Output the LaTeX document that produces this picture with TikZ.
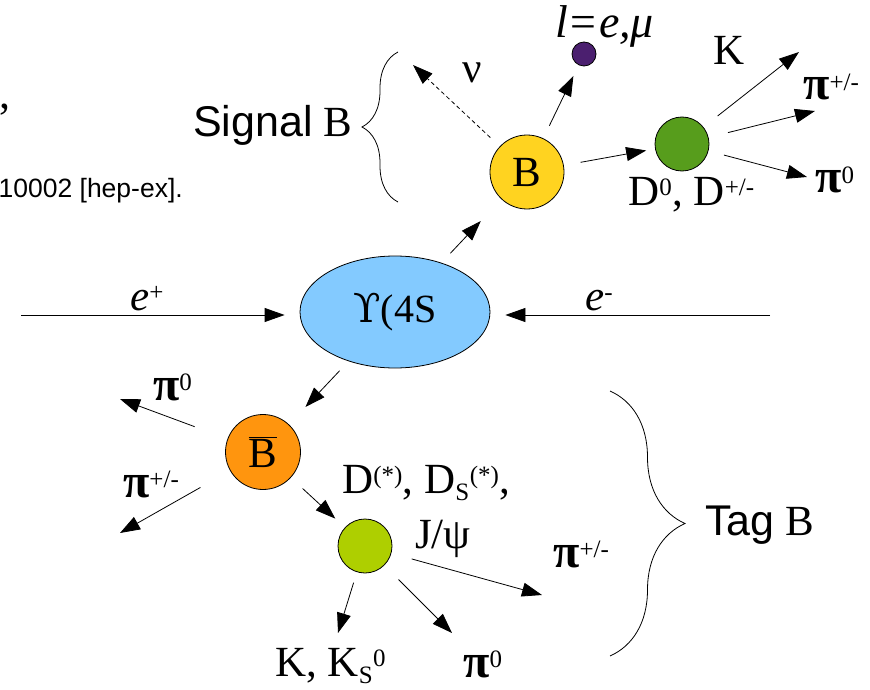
\documentclass[tikz,border=0pt]{standalone}
\usepackage{fontspec}
\setmainfont{Liberation Serif}
\newfontfamily\sansfam{Liberation Sans}
\newfontfamily\upsfam{DejaVu Serif}
\usetikzlibrary{arrows.meta,shapes.geometric,decorations.pathreplacing}
\definecolor{upscol}{HTML}{83CAFF}
\definecolor{bcol}{HTML}{FFD320}
\definecolor{lepcol}{HTML}{4B1F6F}
\definecolor{dcol}{HTML}{579D1C}
\definecolor{bbcol}{HTML}{FF950E}
\definecolor{dtcol}{HTML}{AECF00}
\newcommand\bigtxt{\fontsize{43}{47}\selectfont}
\newcommand\pib{{\fontsize{48}{52}\selectfont\textbf{π}}}
\newcommand\sups[1]{\textsuperscript{\fontsize{25}{27}\selectfont #1}}
\newcommand\subs[1]{\textsubscript{\fontsize{25}{27}\selectfont #1}}
\tikzset{
  ball/.style={circle,draw,line width=0.8pt,inner sep=0pt},
  arr/.style={-{Triangle[length=20pt,width=14pt]},line width=0.8pt},
  lbl/.style={font=\bigtxt,inner sep=0pt,anchor=base west},
  brc/.style={decorate,decoration={brace,amplitude=#1},line width=0.8pt}
}

\begin{document}
\begin{tikzpicture}[x=1pt,y=-1pt]
\useasboundingbox (0,0) rectangle (870,690);
\node[font=\fontsize{44}{48}\selectfont,inner sep=0pt,anchor=base west] (frag) at (-1,109) {,};
\node[font=\sansfam\fontsize{26.5}{30}\selectfont,inner sep=0pt,anchor=base east] (ref) at (183,197) {10002 [hep-ex].};
\node[ellipse,draw,line width=0.8pt,fill=upscol,minimum width=190pt,minimum height=112pt,inner sep=0pt,font=\fontsize{40}{44}\selectfont] (Y) at (395,312) {{\upsfam ϒ}(4S};
\node[ball,fill=bcol,minimum size=74pt,font=\bigtxt] (B) at (527,172) {B};
\node[ball,fill=lepcol,minimum size=24pt] (lep) at (584,54) {};
\node[ball,fill=dcol,minimum size=54pt] (D) at (682,144) {};
\node[ball,fill=bbcol,minimum size=75pt,font=\bigtxt] (Bb) at (263,452) {$\overline{\mbox{B}}$};
\node[ball,fill=dtcol,minimum size=54pt] (Dt) at (365,546) {};
\node[lbl,font=\fontsize{46}{50}\selectfont] (lepl) at (555,38) {\textit{l=e,μ}};
\node[lbl] (nul) at (462,83) {ν};
\node[lbl] (kl) at (713,65) {K};
\node[lbl] (pipl) at (803,100) {\pib\sups{+/-}};
\node[lbl] (pi0l) at (815,193) {\pib\sups{0}};
\node[lbl] (dl) at (628,205) {D\sups{0}, D\sups{+/-}};
\node[lbl] (sigl) at (193,137) {{\sansfam Signal} B};
\node[lbl] (tagl) at (705,535) {{\sansfam Tag} B};
\node[lbl] (epl) at (130,310) {\textit{e}\sups{+}};
\node[lbl] (eml) at (585,310) {\textit{e}\sups{-}};
\node[lbl] (bpi0l) at (153,400) {\pib\sups{0}};
\node[lbl] (bpipl) at (123,497) {\pib\sups{+/-}};
\node[lbl] (dsl) at (342,493) {D\sups{(*)}, D\subs{S}\sups{(*)},};
\node[lbl] (jpsil) at (415,548) {J/ψ};
\node[lbl] (tpipl) at (553,567) {\pib\sups{+/-}};
\node[lbl] (tpi0l) at (463,677) {\pib\sups{0}};
\node[lbl] (kksl) at (275,676) {K, K\subs{S}\sups{0}};
\coordinate (ein) at (21,315);
\coordinate (emin) at (770,315);
\coordinate (nuend) at (413,65);
\coordinate (kend) at (799,52);
\coordinate (pipend) at (815,111);
\coordinate (pi0end) at (807,177);
\coordinate (bpi0end) at (120,399);
\coordinate (bpipend) at (120,533);
\coordinate (tpipend) at (542,595);
\coordinate (tpi0end) at (452,633);
\coordinate (kksend) at (338,633);
\draw[arr,shorten >=15pt] (ein) -- (ein -| Y.west);
\draw[arr,shorten >=15pt] (emin) -- (emin -| Y.east);
\draw[arr,shorten <=13pt,shorten >=30pt] (Y) -- (B);
\draw[arr,shorten <=13pt,shorten >=24pt] (Y) -- (Bb);
\draw[arr,dash pattern=on 4pt off 3pt,shorten <=13pt] (B) -- (nuend);
\draw[arr,shorten <=14pt,shorten >=12pt] (B) -- (lep);
\draw[arr,shorten <=17pt,shorten >=9pt] (B) -- (D);
\draw[arr,shorten <=18pt] (D) -- (kend);
\draw[arr,shorten <=20pt] (D) -- (pipend);
\draw[arr,shorten <=16pt] (D) -- (pi0end);
\draw[arr,shorten <=35pt] (Bb) -- (bpi0end);
\draw[arr,shorten <=34pt] (Bb) -- (bpipend);
\draw[arr,shorten <=16pt,shorten >=13pt] (Bb) -- (Dt);
\draw[arr,shorten <=21pt] (Dt) -- (tpipend);
\draw[arr,shorten <=20pt] (Dt) -- (tpi0end);
\draw[arr,shorten <=11pt] (Dt) -- (kksend);
\draw[brc=36pt] (398,202) -- (398,52);
\draw[brc=75pt] (610,391) -- (610,656);
\end{tikzpicture}
\end{document}
